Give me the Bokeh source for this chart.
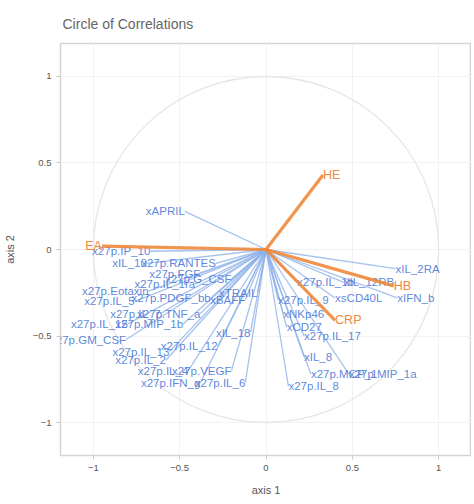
from bokeh.plotting import figure
from bokeh.models import ColumnDataSource, Range1d, FixedTicker, Title
from bokeh.embed import file_html
from bokeh.resources import INLINE
from bokeh.core.properties import value

# ---- data ----
blue_names = ["xAPRIL", "x27p.IP_10", "xIL_10", "x27p.RANTES", "x27p.FGF",
              "x27p.Eotaxin", "x27p.G_CSF", "x27p.IL_1ra", "x27p.IL_5", "xBAFF",
              "x27p.PDGF_bb", "x27p.IL_7", "x27p.TNF_a", "x27p.IL_15", "x27p.MIP_1b",
              "x27p.GM_CSF", "xIL_18", "x27p.IL_13", "x27p.IL_12", "x27p.IL_2",
              "x27p.IL_4", "x27p.VEGF", "x27p.IFN_g", "x27p.IL_6",
              "xIL_2RA", "xIFN_b", "x27p.IL_1b", "xIL_12RB", "x27p.IL_9",
              "xsCD40L", "xCD27", "x27p.IL_17", "xIL_8", "x27p.MIP_1a",
              "x27p.MCP_1", "x27p.IL_8", "xNKp46", "xTRAIL"]
blue_x = [-0.47, -0.67, -0.69, -0.29, -0.38,
          -0.68, -0.20, -0.41, -0.76, -0.12,
          -0.32, -0.61, -0.38, -0.80, -0.48,
          -0.81, -0.09, -0.56, -0.28, -0.58,
          -0.45, -0.20, -0.38, -0.12,
          0.75, 0.76, 0.18, 0.45, 0.07,
          0.40, 0.12, 0.22, 0.22, 0.48,
          0.26, 0.13, 0.10, -0.05]
blue_y = [0.22, -0.01, -0.08, -0.08, -0.14,
          -0.24, -0.17, -0.20, -0.30, -0.29,
          -0.28, -0.37, -0.37, -0.43, -0.43,
          -0.52, -0.48, -0.59, -0.56, -0.64,
          -0.70, -0.70, -0.77, -0.77,
          -0.11, -0.28, -0.19, -0.19, -0.29,
          -0.28, -0.45, -0.50, -0.62, -0.72,
          -0.72, -0.79, -0.37, -0.25]

orange_names = ["EA", "HE", "HB", "CRP"]
orange_x = [-0.95, 0.33, 0.74, 0.40]
orange_y = [0.02, 0.43, -0.21, -0.41]

ticks = [-1, -0.5, 0, 0.5, 1]
tick_labels = {-1: "\u22121", -0.5: "\u22120.5", 0: "0", 0.5: "0.5", 1: "1"}

BLUE_LINE = "#8fb2ea"
BLUE_TEXT = "#4a78d6"
ORANGE = "#f0883a"

def make_src(names, xs, ys):
    return ColumnDataSource(dict(
        name=names, x=xs, y=ys,
        x0=[0] * len(xs), y0=[0] * len(xs),
        align=["left" if v >= 0 else "right" for v in xs],
    ))

bsrc = make_src(blue_names, blue_x, blue_y)
osrc = make_src(orange_names, orange_x, orange_y)

p = figure(frame_width=411, frame_height=412, output_backend="svg",
           toolbar_location=None,
           x_range=Range1d(-1.19, 1.19), y_range=Range1d(-1.19, 1.19),
           min_border_left=52, min_border_right=0, min_border_top=43,
           min_border_bottom=38)
p.title = Title(text="Circle of Correlations", text_font="Liberation Sans",
                text_font_size="14px", text_font_style="normal",
                text_color="#666666", offset=2, standoff=23)

# unit circle
p.ellipse(x=[0], y=[0], width=[2], height=[2], fill_color=None,
          line_color="#e6e6e6", line_width=1.3)

p.segment(x0="x0", y0="y0", x1="x", y1="y", source=bsrc,
          line_color=BLUE_LINE, line_width=1.3, line_alpha=0.8)
p.text(x="x", y="y", text="name", source=bsrc, text_align="align",
       text_baseline="middle", text_color=BLUE_TEXT, text_font_size="11.5px",
       text_font=value("Liberation Sans"), text_alpha=0.9)

p.segment(x0="x0", y0="y0", x1="x", y1="y", source=osrc,
          line_color=ORANGE, line_width=3.2, line_alpha=0.9)
p.text(x="x", y="y", text="name", source=osrc, text_align="align",
       text_baseline="middle", text_color=ORANGE, text_font_size="12.5px",
       text_font=value("Liberation Sans"))

for ax in (p.xaxis[0], p.yaxis[0]):
    ax.ticker = FixedTicker(ticks=ticks)
    ax.major_label_overrides = tick_labels
    ax.axis_line_color = None
    ax.major_tick_line_color = "#cccccc"
    ax.major_tick_out = 4
    ax.major_tick_in = 0
    ax.minor_tick_line_color = None
    ax.major_label_text_font_size = "9.5px"
    ax.major_label_text_color = "#555555"
    ax.major_label_text_font = "Liberation Sans"
    ax.axis_label_text_font_size = "11px"
    ax.axis_label_text_font_style = "normal"
    ax.axis_label_text_color = "#555555"
    ax.axis_label_text_font = "Liberation Sans"
p.xaxis.axis_label = "axis 1"
p.yaxis.axis_label = "axis 2"
p.xaxis.axis_label_standoff = 10
p.yaxis.axis_label_standoff = 14

p.grid.grid_line_color = "#f2f2f2"
p.outline_line_color = "#d4d4d4"
p.outline_line_width = 1.5

open("out.html", "w").write(file_html(p, INLINE))
